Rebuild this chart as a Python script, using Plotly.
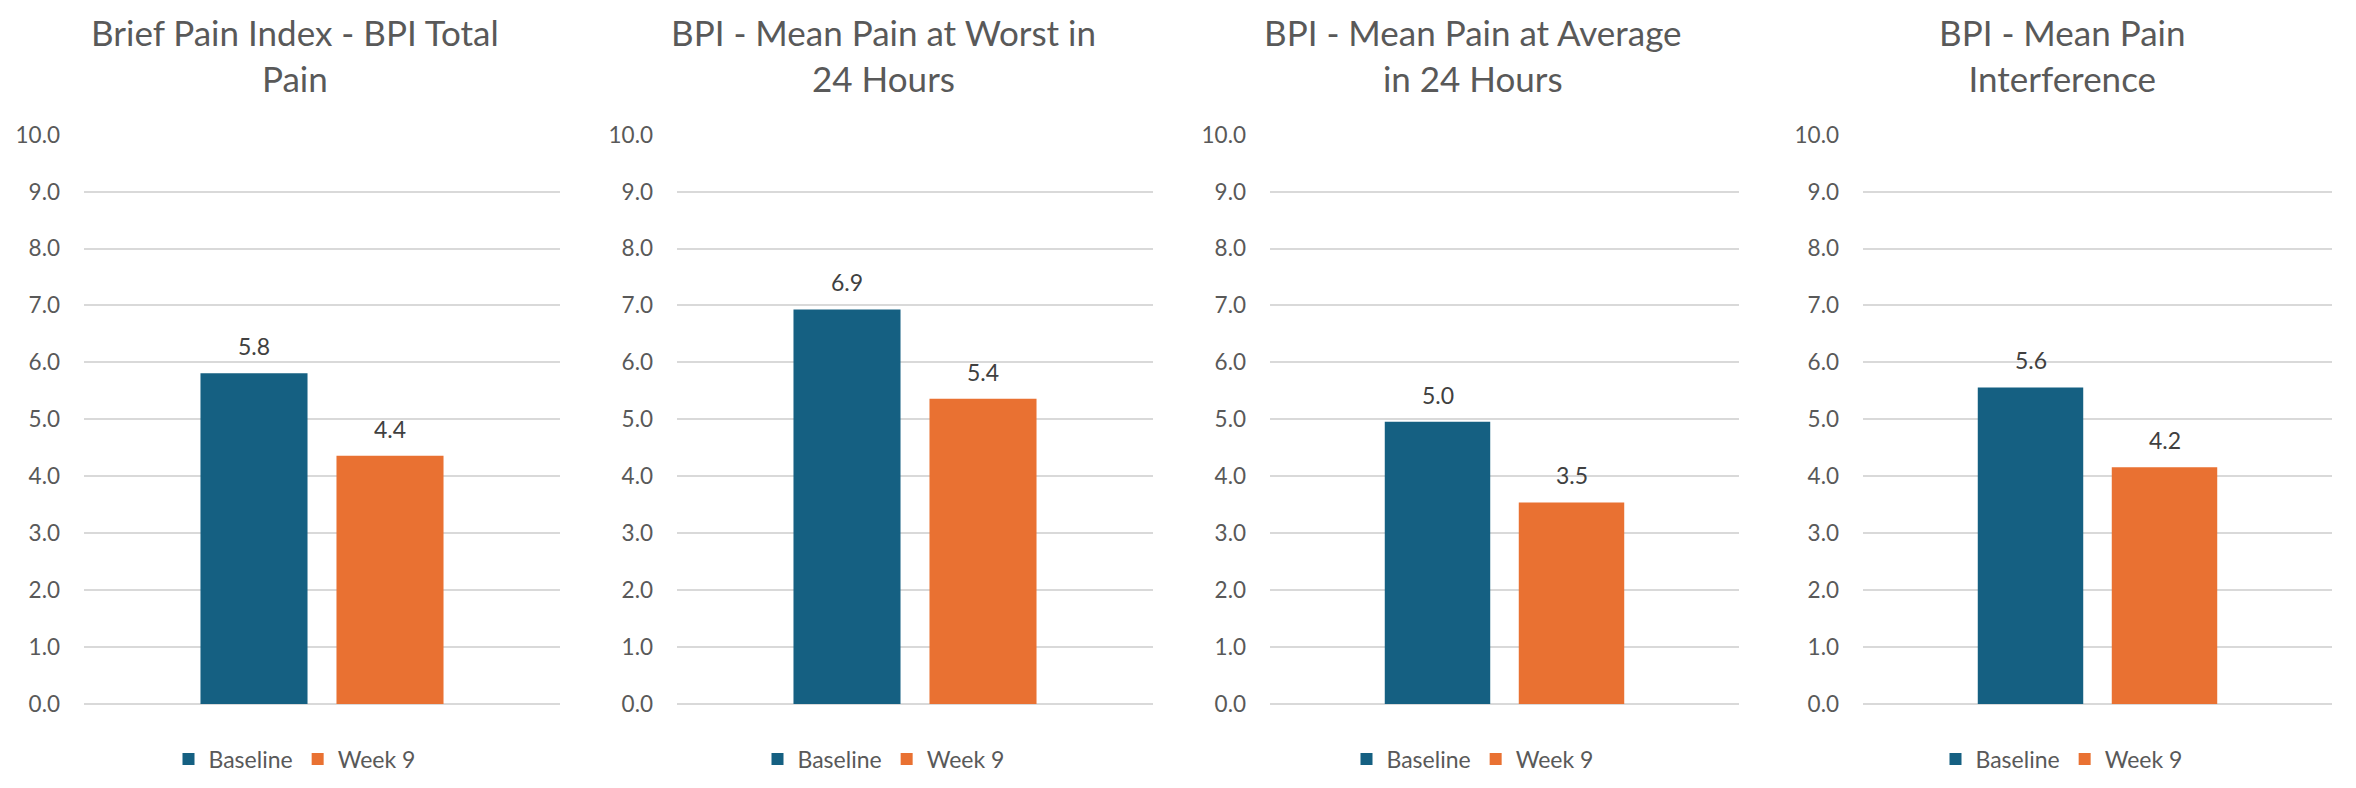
import plotly.graph_objects as go

# ---- data ----
panel_titles = [
    "Brief Pain Index - BPI Total<br>Pain",
    "BPI - Mean Pain at Worst in<br>24 Hours",
    "BPI - Mean Pain at Average<br>in 24 Hours",
    "BPI - Mean Pain<br>Interference",
]
series_names = ["Baseline", "Week 9"]
baseline_values = [5.81, 6.93, 4.96, 5.56]
week9_values = [4.36, 5.36, 3.54, 4.16]
y_ticks = [0, 1, 2, 3, 4, 5, 6, 7, 8, 9, 10]

# ---- styling ----
W, H = 2356, 788
OFF = 8  # page body margin offset
colors = ["#156082", "#E97132"]
font_family = "Lato, Open Sans, sans-serif"
text_grey = "#595959"
label_grey = "#404040"
grid_col = "#D9D9D9"

# plot-area pixel extents for each panel (page coordinates)
panel_px = [(84, 560), (677, 1153), (1270, 1739), (1863, 2332)]
chart_w = W / 4
y_bottom_px, y_top_px = 704, 134.7


def fx(px):
    return (px - OFF) / W


def fy(py):
    return (H - (py - OFF)) / H


fig = go.Figure()
annotations = []
for i in range(4):
    n = "" if i == 0 else str(i + 1)
    vals = [baseline_values[i], week9_values[i]]
    for s, name in enumerate(series_names):
        fig.add_trace(go.Bar(
            x=[name], y=[vals[s]], name=name,
            marker=dict(color=colors[s], line=dict(width=0)),
            xaxis="x" + n, yaxis="y" + n,
            legend="legend" + n,
            hoverinfo="skip",
        ))
        annotations.append(dict(
            x=name, y=vals[s], xref="x" + n, yref="y" + n,
            text=f"{vals[s]:.1f}", showarrow=False,
            yanchor="middle", yshift=27,
            font=dict(family=font_family, size=23, color=label_grey),
        ))
    cx = fx(chart_w * i + chart_w / 2)
    annotations.append(dict(
        x=cx, y=fy(55), xref="paper", yref="paper",
        text=panel_titles[i], showarrow=False,
        xanchor="center", yanchor="middle",
        font=dict(family=font_family, size=35, color=text_grey),
    ))
    x0, x1 = panel_px[i]
    fig.layout["xaxis" + n] = dict(
        domain=[fx(x0), fx(x1)], anchor="y" + n,
        type="category", categoryorder="array", categoryarray=series_names,
        range=[-1.25, 2.25], showticklabels=False, showgrid=False,
        zeroline=False, showline=False, ticks="", fixedrange=True,
        automargin=False,
    )
    fig.layout["yaxis" + n] = dict(
        domain=[fy(y_bottom_px), fy(y_top_px)], anchor="x" + n,
        range=[0, 10], tickvals=y_ticks, tickformat=".1f",
        showgrid=True, gridcolor=grid_col, gridwidth=1.5,
        zeroline=True, zerolinecolor=grid_col, zerolinewidth=1.5,
        showline=False, ticks="", ticklabelstandoff=23,
        tickfont=dict(family=font_family, size=22.5, color=text_grey),
        fixedrange=True, automargin=False,
    )
    fig.layout["legend" + n] = dict(
        orientation="h", x=cx, y=fy(759),
        xanchor="center", yanchor="middle",
        font=dict(family=font_family, size=23, color=text_grey),
        bgcolor="rgba(0,0,0,0)", itemclick=False, itemdoubleclick=False,
    )

fig.update_layout(
    width=W, height=H,
    margin=dict(l=0, r=0, t=0, b=0, autoexpand=False),
    paper_bgcolor="white", plot_bgcolor="white",
    barmode="overlay", bargap=0.213,
    annotations=annotations,
    font=dict(family=font_family, color=text_grey),
)

fig.write_html("out.html")
